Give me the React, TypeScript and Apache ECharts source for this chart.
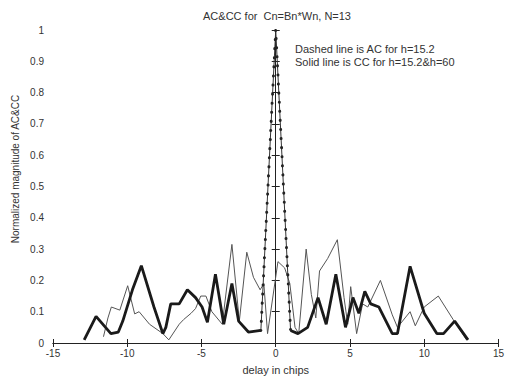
import React, { useEffect, useRef } from "react";
import * as echarts from "echarts";

// AC (dashed line, h=15.2): delay in chips / normalized magnitude
const acDelay = [-12.9, -12.1, -11.1, -10.6, -10.3, -9.65, -9.05, -8.2, -7.6, -7.4, -7.07, -6.5, -5.95, -5.4, -4.96, -4.6, -4.06, -3.5, -2.95, -2.5, -1.84, -1.0, 0, 1.0, 1.5, 2.15, 2.85, 3.4, 4.05, 4.7, 5.2, 5.6, 6.0, 6.4, 6.95, 7.85, 8.2, 9.05, 10.0, 10.85, 11.3, 12.05, 12.95];
const acValue = [0.01, 0.085, 0.03, 0.035, 0.07, 0.17, 0.247, 0.115, 0.03, 0.05, 0.125, 0.125, 0.17, 0.145, 0.115, 0.066, 0.22, 0.06, 0.19, 0.07, 0.035, 0.04, 1.0, 0.04, 0.03, 0.05, 0.145, 0.06, 0.22, 0.05, 0.145, 0.095, 0.165, 0.125, 0.115, 0.03, 0.03, 0.245, 0.095, 0.03, 0.03, 0.07, 0.01];

// CC (solid line, h=15.2 & h=60)
const ccDelay = [-11.6, -11.3, -11.07, -10.5, -9.97, -9.5, -9.2, -8.5, -7.6, -7.2, -6.5, -6.2, -5.7, -5.4, -5.05, -4.7, -4.3, -3.6, -2.95, -2.45, -1.95, -1.5, -1.05, -0.8, -0.55, 0.15, 0.6, 0.95, 1.3, 1.55, 2.05, 2.4, 2.7, 2.95, 3.5, 4.15, 4.6, 4.85, 5.05, 5.45, 5.85, 6.2, 7.05, 7.85, 8.2, 9.05, 9.4, 10.0, 10.95, 11.95, 12.85];
const ccValue = [0.02, 0.08, 0.115, 0.105, 0.183, 0.093, 0.1, 0.06, 0.03, 0.01, 0.06, 0.075, 0.095, 0.11, 0.15, 0.15, 0.1, 0.06, 0.315, 0.07, 0.29, 0.21, 0.17, 0.19, 0.03, 0.26, 0.24, 0.19, 0.05, 0.03, 0.3, 0.155, 0.08, 0.23, 0.27, 0.33, 0.145, 0.06, 0.18, 0.03, 0.125, 0.115, 0.2, 0.09, 0.05, 0.1, 0.055, 0.115, 0.15, 0.075, 0.01];

const xTicks = { min: -15, max: 15, interval: 5 };
const yTicks = { min: 0, max: 1, interval: 0.1 };

const titleText = "AC&CC for  Cn=Bn*Wn, N=13";
const xName = "delay in chips";
const yName = "Normalized magnitude of AC&CC";
const noteLines = ["Dashed line is AC for h=15.2", "Solid line is CC for h=15.2&h=60"];

const FONT = "'Liberation Sans', Arial, sans-serif";
const INK = "#333";

export default function App() {
  const ref = useRef<HTMLDivElement>(null);
  useEffect(() => {
    if (!ref.current) return;
    const chart = echarts.init(ref.current, null, { renderer: "svg" });
    const ac = acDelay.map((d, i) => [d, acValue[i]]);
    const cc = ccDelay.map((d, i) => [d, ccValue[i]]);
    const lobeStart = acDelay.findIndex((d) => d >= -1);
    const lobeEnd = acDelay.findIndex((d) => d > 1) - 1;
    const acLeft = ac.slice(0, lobeStart + 1);
    const acLobe = ac.slice(lobeStart, lobeEnd + 1);
    const acRight = ac.slice(lobeEnd);
    const axisLine = { show: true, lineStyle: { color: "#222", width: 1 } };
    const tick = { show: true, inside: true, length: 4, lineStyle: { color: "#222" } };
    const lbl = { color: INK, fontSize: 10, fontFamily: FONT };
    chart.setOption({
      animation: false,
      backgroundColor: "#fff",
      grid: { left: 53, right: 5, top: 30, bottom: 34, containLabel: false },
      xAxis: [
        {
          type: "value", ...xTicks, position: "bottom",
          axisLine, axisTick: tick, splitLine: { show: false },
          axisLabel: { ...lbl, margin: 5 },
          name: xName, nameLocation: "middle", nameGap: 21,
          nameTextStyle: { color: INK, fontSize: 11, fontFamily: FONT },
        },
        {
          type: "value", ...xTicks, position: "top",
          axisLine, axisTick: tick, splitLine: { show: false },
          axisLabel: { show: false },
        },
      ],
      yAxis: [
        {
          type: "value", ...yTicks, position: "left",
          axisLine, axisTick: tick, splitLine: { show: false },
          axisLabel: { ...lbl, margin: 9 },
        },
        {
          type: "value", ...yTicks, position: "right",
          axisLine, axisTick: tick, splitLine: { show: false },
          axisLabel: { show: false },
        },
      ],
      series: [
        {
          type: "line", data: cc, showSymbol: false, symbol: "none",
          lineStyle: { color: "#555", width: 1 }, z: 2,
        },
        {
          type: "line", data: acLeft, showSymbol: false, symbol: "none",
          lineStyle: { color: "#1a1a1a", width: 2.8 }, z: 3,
        },
        {
          type: "line", data: acRight, showSymbol: false, symbol: "none",
          lineStyle: { color: "#1a1a1a", width: 2.8 }, z: 3,
        },
        {
          type: "line", data: acLobe, showSymbol: false, symbol: "none",
          lineStyle: { color: "#333", width: 1 }, z: 4,
        },
        {
          type: "line", data: acLobe, showSymbol: false, symbol: "none",
          lineStyle: { color: "#222", width: 3, type: [0.1, 9], cap: "round" }, z: 5,
        },
      ],
      graphic: [
        {
          type: "text", x: 277, y: 16,
          style: { text: titleText, fill: INK, font: `11px ${FONT}`, textAlign: "center", textVerticalAlign: "middle" },
        },
        {
          type: "text", x: 15, y: 169, rotation: Math.PI / 2,
          style: { text: yName, fill: INK, font: `10px ${FONT}`, textAlign: "center", textVerticalAlign: "middle" },
        },
        {
          type: "text", x: 295, y: 49,
          style: { text: noteLines[0], fill: INK, font: `11px ${FONT}`, textAlign: "left", textVerticalAlign: "middle" },
        },
        {
          type: "text", x: 295, y: 62,
          style: { text: noteLines[1], fill: INK, font: `11px ${FONT}`, textAlign: "left", textVerticalAlign: "middle" },
        },
      ],
    });
    return () => chart.dispose();
  }, []);
  return <div ref={ref} style={{ position: "fixed", left: 0, top: 0, width: 507, height: 380 }} />;
}
